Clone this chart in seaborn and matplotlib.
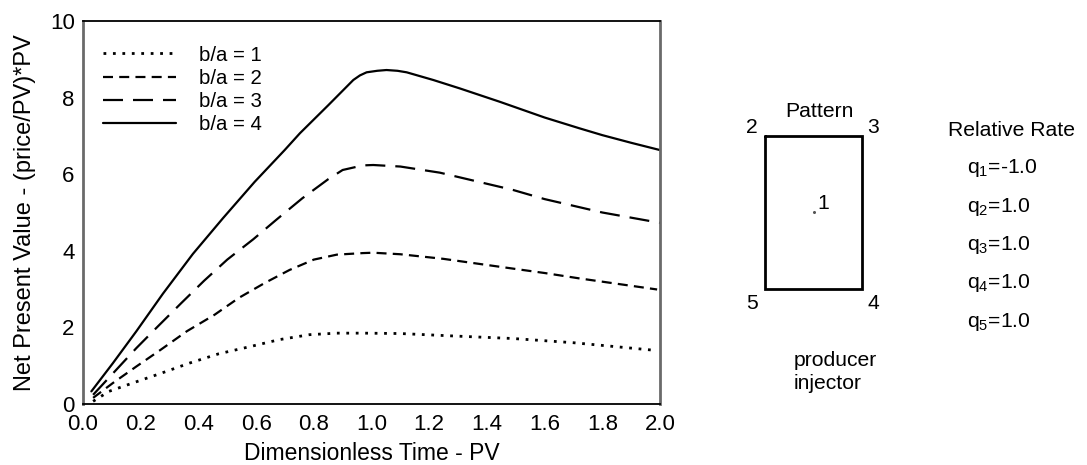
import numpy as np
import pandas as pd
import seaborn as sns
import matplotlib
matplotlib.use("Agg")
import matplotlib.pyplot as plt
from matplotlib.ticker import MultipleLocator, FixedLocator

# ---------------- data ----------------
x_b4 = [0.029, 0.104, 0.185, 0.277, 0.381, 0.485, 0.595, 0.699, 0.752, 0.85, 0.937, 0.96, 0.983,
        1.02, 1.052, 1.09, 1.122, 1.214, 1.306, 1.445, 1.6, 1.72, 1.8, 1.9, 2.0]
y_b4 = [0.33, 1.07, 1.90, 2.88, 3.92, 4.85, 5.80, 6.63, 7.07, 7.80, 8.46, 8.58, 8.66,
        8.70, 8.72, 8.70, 8.66, 8.46, 8.24, 7.89, 7.48, 7.20, 7.02, 6.82, 6.63]

x_b3 = [0.035, 0.11, 0.185, 0.26, 0.34, 0.42, 0.50, 0.59, 0.67, 0.76, 0.85, 0.90, 0.97, 1.006,
        1.1, 1.237, 1.4, 1.49, 1.6, 1.8, 2.0]
y_b3 = [0.24, 0.85, 1.46, 2.03, 2.63, 3.22, 3.77, 4.30, 4.81, 5.37, 5.87, 6.11, 6.23, 6.24,
        6.20, 6.04, 5.75, 5.59, 5.35, 5.0, 4.73]

x_b2 = [0.035, 0.104, 0.185, 0.27, 0.36, 0.456, 0.54, 0.63, 0.716, 0.80, 0.88, 0.97, 1.006,
        1.1, 1.249, 1.4, 1.6, 1.72, 1.85, 1.99]
y_b2 = [0.16, 0.55, 0.98, 1.42, 1.90, 2.33, 2.77, 3.16, 3.50, 3.77, 3.90, 3.94, 3.95,
        3.91, 3.79, 3.63, 3.42, 3.28, 3.14, 2.99]

x_b1 = [0.035, 0.09, 0.173, 0.266, 0.37, 0.47, 0.58, 0.68, 0.785, 0.88, 0.97, 1.1, 1.272,
        1.49, 1.7, 1.97]
y_b1 = [0.07, 0.33, 0.55, 0.79, 1.07, 1.31, 1.50, 1.68, 1.81, 1.85, 1.85, 1.84, 1.78,
        1.71, 1.60, 1.41]

series_labels = ["b/a = 1", "b/a = 2", "b/a = 3", "b/a = 4"]
x_ticks = [0.0, 0.2, 0.4, 0.6, 0.8, 1.0, 1.2, 1.4, 1.6, 1.8, 2.0]
x_tick_labels = ["0.0", "0.2", "0.4", "0.6", "0.8", "1.0", "1.2", "1.4", "1.6", "1.8", "2.0"]
y_ticks = [0, 2, 4, 6, 8, 10]
y_tick_labels = ["0", "2", "4", "6", "8", "10"]

well_labels = ["1", "2", "3", "4", "5"]
rate_labels = ["q$_1$=-1.0", "q$_2$=1.0", "q$_3$=1.0", "q$_4$=1.0", "q$_5$=1.0"]

# ---------------- style ----------------
sns.set_theme(style="white")
plt.rcParams["font.family"] = ["Liberation Sans", "DejaVu Sans"]
plt.rcParams["mathtext.fontset"] = "custom"
plt.rcParams["mathtext.rm"] = "Liberation Sans"
plt.rcParams["mathtext.it"] = "Liberation Sans"
plt.rcParams["text.color"] = "black"
plt.rcParams["axes.labelcolor"] = "black"
plt.rcParams["xtick.color"] = "black"
plt.rcParams["ytick.color"] = "black"

W, H = 1087, 465
fig = plt.figure(figsize=(W / 100, H / 100), dpi=100)
fig.patch.set_facecolor("white")

ax = fig.add_axes([83 / W, 1 - 404 / H, (660 - 83) / W, (404 - 21) / H])

frames = []
for lab, xs, ys in zip(series_labels, [x_b1, x_b2, x_b3, x_b4], [y_b1, y_b2, y_b3, y_b4]):
    frames.append(pd.DataFrame({"t": xs, "npv": ys, "series": lab}))
df = pd.concat(frames, ignore_index=True)

dash_map = {
    "b/a = 1": (1.0, 2.4),
    "b/a = 2": (4.5, 2.8),
    "b/a = 3": (9.0, 4.5),
    "b/a = 4": "",
}
sns.lineplot(data=df, x="t", y="npv", hue="series", style="series",
             palette=["black"] * 4, dashes=dash_map, linewidth=1.6,
             sort=False, estimator=None, ax=ax, legend=True)

for line in ax.lines:
    line.set_solid_joinstyle("round")
    line.set_dash_joinstyle("round")
ax.lines[0].set_linewidth(2.0)

ax.set_xlim(0, 2.0)
ax.set_ylim(0, 10)
ax.xaxis.set_major_locator(FixedLocator(x_ticks))
ax.set_xticklabels(x_tick_labels)
ax.yaxis.set_major_locator(FixedLocator(y_ticks))
ax.set_yticklabels(y_tick_labels)
ax.xaxis.set_minor_locator(MultipleLocator(0.05))
ax.yaxis.set_minor_locator(MultipleLocator(0.4))
ax.tick_params(axis="both", which="both", direction="in", colors="black",
               labelsize=16, top=False, right=False)
ax.tick_params(axis="x", which="major", length=7, width=1.0, pad=7)
ax.tick_params(axis="x", which="minor", length=4, width=1.0)
ax.tick_params(axis="y", which="major", length=4, width=1.0, pad=6)
ax.tick_params(axis="y", which="minor", length=3, width=1.0)

ax.set_xlabel("Dimensionless Time - PV", fontsize=16.5, labelpad=5, color="black")
ax.set_ylabel("Net Present Value - (price/PV)*PV", fontsize=17, labelpad=10, color="black")

for side in ["top", "bottom"]:
    ax.spines[side].set_color("black")
    ax.spines[side].set_linewidth(1.3)
for side in ["left", "right"]:
    ax.spines[side].set_color("#6a6a6a")
    ax.spines[side].set_linewidth(2.0)
    ax.spines[side].set_visible(True)
ax.grid(False)

handles, labels = ax.get_legend_handles_labels()
leg = ax.legend(handles, labels, loc="upper left", bbox_to_anchor=(-0.012, 1.005),
                frameon=False, fontsize=14.7, handlelength=3.6, handletextpad=1.1,
                labelspacing=0.2, borderaxespad=0.9)
for t in leg.get_texts():
    t.set_color("black")
leg_lines = leg.get_lines()
for h in leg_lines:
    h.set_linewidth(1.6)
leg_lines[0].set_linewidth(2.0)

# ---------------- pattern diagram (pixel coordinates overlay) ----------------
ov = fig.add_axes([0, 0, 1, 1], facecolor="none")
ov.set_xlim(0, W)
ov.set_ylim(H, 0)
ov.axis("off")

rect_x = [765, 862, 862, 765, 765]
rect_y = [136, 136, 289, 289, 136]
ov.plot(rect_x, rect_y, color="black", linewidth=2.0, solid_joinstyle="miter")

fs = 15.2
ov.text(819, 111, "Pattern", ha="center", va="center", fontsize=fs)
ov.text(752, 127, well_labels[1], ha="center", va="center", fontsize=fs)
ov.text(873, 127, well_labels[2], ha="center", va="center", fontsize=fs)
ov.text(873, 303, well_labels[3], ha="center", va="center", fontsize=fs)
ov.text(752, 303, well_labels[4], ha="center", va="center", fontsize=fs)
ov.plot([814], [212], marker="o", markersize=1.2, color="#555555")
ov.text(823, 203, well_labels[0], ha="center", va="center", fontsize=fs)
ov.text(794, 360, "producer", ha="left", va="center", fontsize=fs)
ov.text(794, 383, "injector", ha="left", va="center", fontsize=fs)

ov.text(948, 130, "Relative Rate", ha="left", va="center", fontsize=fs)
rate_y = [168, 207, 245, 283, 322]
for lab, yy in zip(rate_labels, rate_y):
    ov.text(967, yy, lab, ha="left", va="center", fontsize=fs)

fig.savefig("out.png", dpi=100, facecolor="white")
